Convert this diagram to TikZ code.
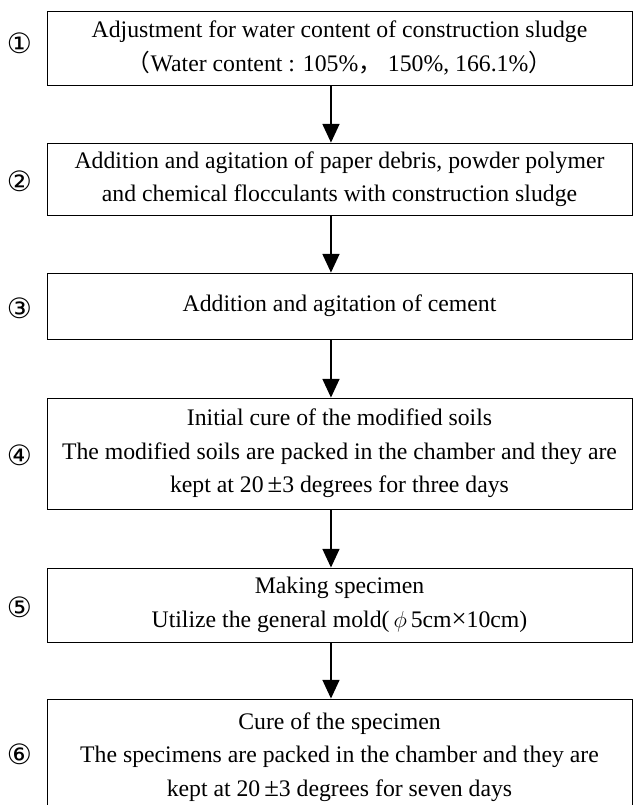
\documentclass[tikz,border=0pt]{standalone}
\usepackage{fontspec}
\setmainfont{Liberation Serif}
\newfontfamily\circfont{DejaVu Sans}
\newfontfamily\cjk{Noto Sans CJK SC}
\usepackage{tikz}
\usetikzlibrary{shapes,arrows.meta,positioning}
\tikzstyle{block} = [draw, rectangle, line width=0.6pt,
    minimum width=438.75pt, align=center, inner sep=0pt,
    font=\fontsize{17.8pt}{25pt}\selectfont]
\tikzstyle{stepno} = [inner sep=0pt,
    font=\circfont\fontsize{21pt}{21pt}\selectfont]
\tikzstyle{flow} = [line width=1.1pt,
    -{Triangle[width=12.75pt,length=14pt]}]
\newcommand{\bigpm}{{\fontsize{20pt}{20pt}\selectfont ±}}
\newcommand{\bigtimes}{{\fontsize{20pt}{20pt}\selectfont ×}}

\begin{document}
\begin{tikzpicture}[x=0.75pt, y=-0.75pt, node distance=240pt]
    \useasboundingbox (0,0) rectangle (637,805);
    \clip (0,0) rectangle (637,805);
    % We start by placing the blocks, one below the other
    \node [block, minimum height=55.5pt] (adjust) at (339.5,48)
        {Adjustment for water content of construction sludge\\
         {\cjk （}Water content : 105\%{\cjk ，} 150\%, 166.1\%{\cjk ）}};
    \node [block, below of=adjust, node distance=98.25pt,
            minimum height=54pt] (paper)
        {Addition and agitation of paper debris, powder polymer\\
         and chemical flocculants with construction sludge};
    \node [block, below of=paper, node distance=95.25pt,
            minimum height=49.5pt] (cement)
        {Addition and agitation of cement};
    \node [block, below of=cement, node distance=110.6pt,
            minimum height=83.25pt] (initcure)
        {Initial cure of the modified soils\\
         The modified soils are packed in the chamber and they are\\
         kept at 20\,\bigpm3 degrees for three days};
    \node [block, below of=initcure, node distance=113.6pt,
            minimum height=55.5pt] (making)
        {Making specimen\\
         Utilize the general mold(\,$\phi$\,5cm\bigtimes10cm)};
    \node [block, below of=making, node distance=114pt,
            minimum height=87pt] (cure)
        {Cure of the specimen\\
         The specimens are packed in the chamber and they are\\
         kept at 20\,\bigpm3 degrees for seven days};

    % The step numbers sit to the left of each block
    \node [stepno, left of=adjust, yshift=3.75pt] (n1) {①};
    \node [stepno, left of=paper, yshift=-2pt] (n2) {②};
    \node [stepno, left of=cement, yshift=-1.5pt] (n3) {③};
    \node [stepno, left of=initcure, yshift=-1pt] (n4) {④};
    \node [stepno, left of=making, yshift=-1.5pt] (n5) {⑤};
    \node [stepno, left of=cure, yshift=2pt] (n6) {⑥};

    % Once the nodes are placed, connecting them is easy.
    \draw [flow] ([xshift=-6.4pt]adjust.south) -- ([xshift=-6.4pt]paper.north);
    \draw [flow] ([xshift=-6.4pt]paper.south) -- ([xshift=-6.4pt]cement.north);
    \draw [flow] ([xshift=-6.4pt]cement.south) -- ([xshift=-6.4pt]initcure.north);
    \draw [flow] ([xshift=-6.4pt]initcure.south) -- ([xshift=-6.4pt]making.north);
    \draw [flow] ([xshift=-6.4pt]making.south) -- ([xshift=-6.4pt]cure.north);
\end{tikzpicture}
\end{document}
